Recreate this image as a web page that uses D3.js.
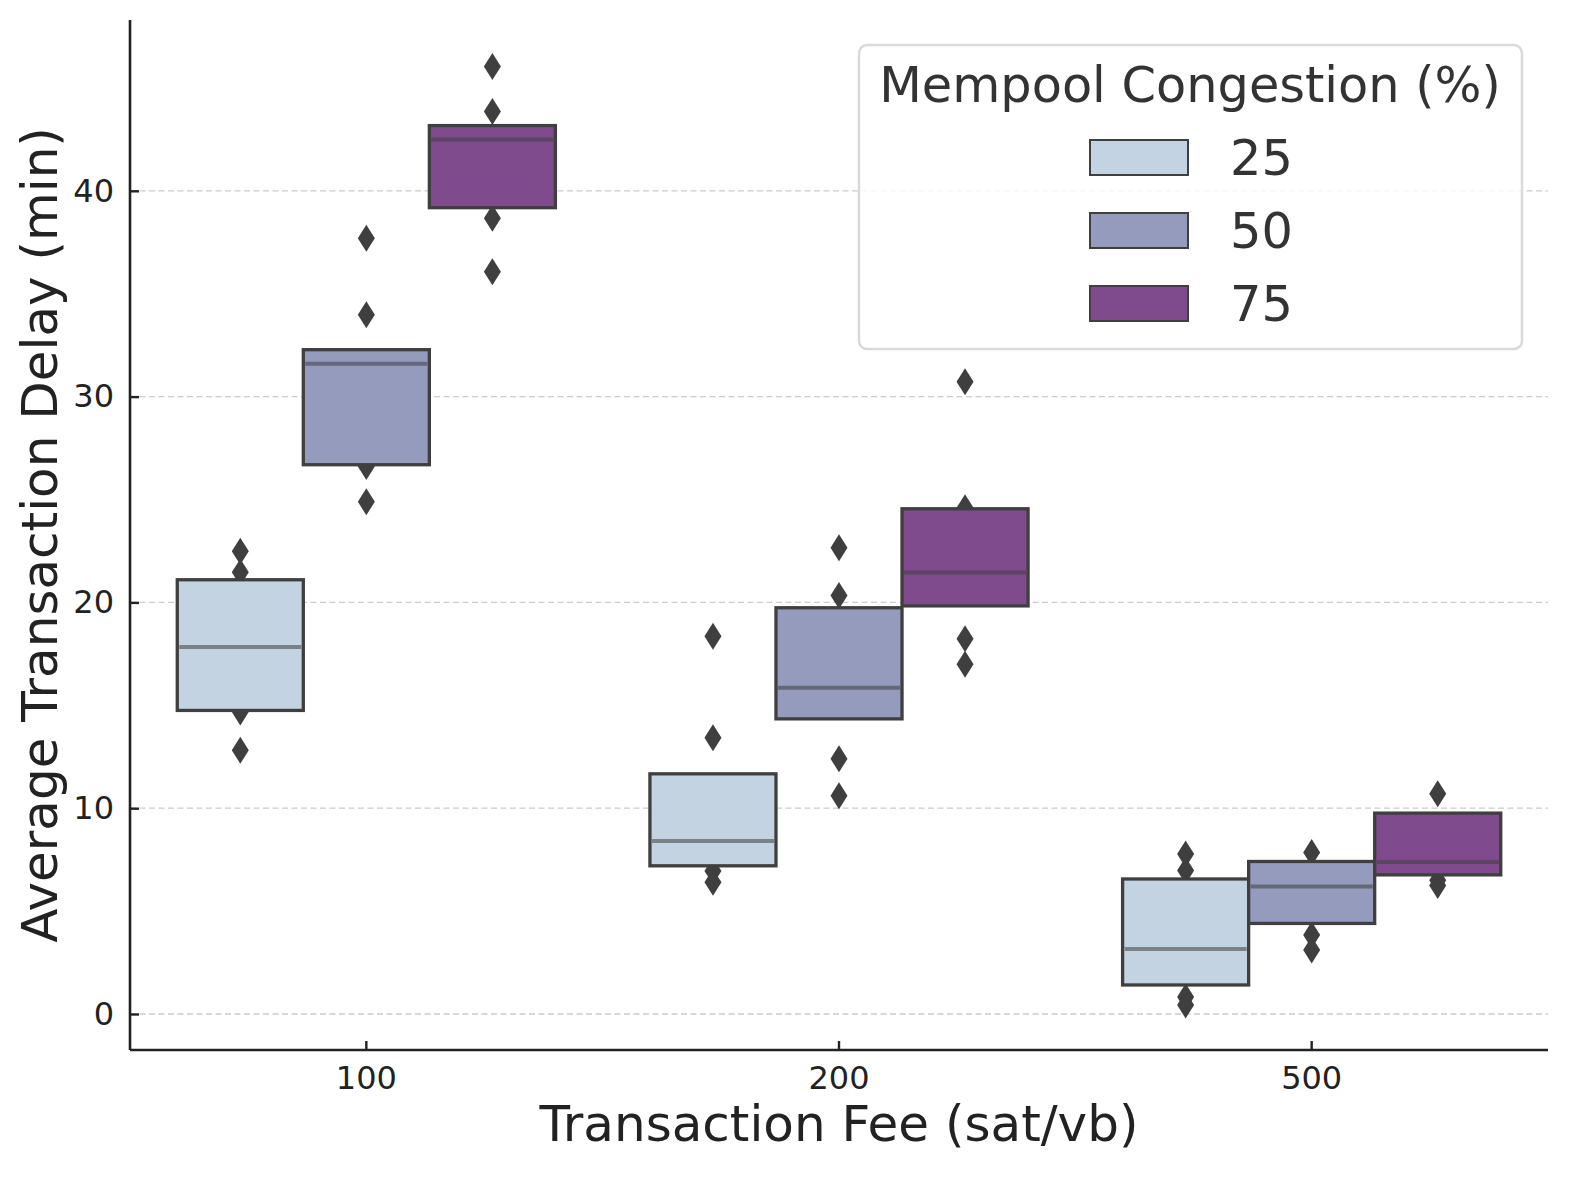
<!DOCTYPE html>
<html>
<head>
<meta charset="utf-8">
<script src="https://cdn.jsdelivr.net/npm/d3@7"></script>
<style>
  body { margin: 0; background: #fff; }
  svg { display: block; font-family: "DejaVu Sans", sans-serif; }
</style>
</head>
<body>
<div id="chart"></div>
<script>
// transaction fee groups and congestion levels
const fees = ['100', '200', '500'];
const congestion = ['25', '50', '75'];
const hueColors = ['#c3d3e2', '#949bbd', '#7f4b8c'];

// box extents and medians, [fee][congestion]
const boxLow = [[14.75, 26.69, 39.18], [7.2, 14.34, 19.83], [1.41, 4.4, 6.76]];
const boxHigh = [[21.1, 32.28, 43.17], [11.67, 19.74, 24.55], [6.56, 7.41, 9.76]];
const medians = [[17.83, 31.6, 42.49], [8.41, 15.85, 21.45], [3.16, 6.2, 7.39]];

// outlying points (diamonds)
const outliers = [
  [[22.48, 21.46, 14.67, 12.82], [37.7, 33.98, 26.6, 24.89], [46.04, 43.85, 38.67, 36.07]],
  [[18.35, 13.42, 6.95, 6.4], [22.65, 20.34, 12.4, 10.6], [30.72, 24.6, 18.23, 17.0]],
  [[7.78, 6.97, 0.83, 0.44], [7.85, 3.84, 3.11], [10.7, 6.5, 6.24]]
];

const yTicks = [0, 10, 20, 30, 40];

const W = 1580, H = 1180;
const margin = {left: 130, right: 32, top: 20, bottom: 130};

const svg = d3.select('#chart').append('svg')
  .attr('width', W)
  .attr('height', H);

const x = d3.scaleBand()
  .domain(fees)
  .range([margin.left, W - margin.right])
  .padding(0);

const hue = d3.scaleBand()
  .domain(congestion)
  .range([0, x.bandwidth() * 0.8]);

const y = d3.scaleLinear()
  .domain([-1.75, 48.3])
  .range([H - margin.bottom, margin.top]);

// grid
svg.append('g')
  .selectAll('line')
  .data(yTicks)
  .enter()
  .append('line')
  .attr('x1', margin.left)
  .attr('x2', W - margin.right)
  .attr('y1', d => y(d))
  .attr('y2', d => y(d))
  .attr('stroke', '#cccccc')
  .attr('stroke-width', 1.3)
  .attr('stroke-dasharray', '6,3.5');

// flat list of boxes
const boxes = [];
fees.forEach((f, i) => {
  congestion.forEach((c, j) => {
    boxes.push({
      fee: f, level: c, color: hueColors[j],
      lo: boxLow[i][j], hi: boxHigh[i][j], med: medians[i][j],
      out: outliers[i][j],
      x0: x(f) + x.bandwidth() * 0.1 + hue(c),
      w: hue.bandwidth()
    });
  });
});

const diamond = 'M0,-13.5L8.5,0L0,13.5L-8.5,0Z';

// outliers first, boxes drawn over them
boxes.forEach(b => {
  svg.append('g')
    .selectAll('path')
    .data(b.out)
    .enter()
    .append('path')
    .attr('d', diamond)
    .attr('fill', '#3f3f3f')
    .attr('transform', d => 'translate(' + (b.x0 + b.w / 2) + ',' + y(d) + ')');
});

const g = svg.append('g')
  .selectAll('.box')
  .data(boxes)
  .enter()
  .append('g')
  .attr('class', 'box');

g.append('rect')
  .attr('x', d => d.x0)
  .attr('y', d => y(d.hi))
  .attr('width', d => d.w)
  .attr('height', d => y(d.lo) - y(d.hi))
  .attr('fill', d => d.color)
  .attr('stroke', '#3f3f3f')
  .attr('stroke-width', 3.3);

g.append('line')
  .attr('x1', d => d.x0 + 2)
  .attr('x2', d => d.x0 + d.w - 2)
  .attr('y1', d => y(d.med))
  .attr('y2', d => y(d.med))
  .attr('stroke', d => d3.interpolateRgb(d.color, '#3f3f3f')(0.55))
  .attr('stroke-width', 4);

// axes
const yAxis = svg.append('g')
  .attr('transform', 'translate(' + margin.left + ',0)')
  .call(d3.axisLeft(y).tickValues(yTicks).tickSize(-9).tickPadding(16));

const xAxis = svg.append('g')
  .attr('transform', 'translate(0,' + (H - margin.bottom) + ')')
  .call(d3.axisBottom(x).tickSize(-9).tickPadding(16));

[xAxis, yAxis].forEach(a => {
  a.select('.domain').attr('stroke', '#222').attr('stroke-width', 2.6);
  a.selectAll('.tick line').attr('stroke', '#222').attr('stroke-width', 2.4);
  a.selectAll('.tick text')
    .attr('fill', '#222')
    .style('font-size', '32px')
    .style('font-family', '"DejaVu Sans", sans-serif');
});
yAxis.select('.domain').attr('d', 'M0,' + (H - margin.bottom) + 'V' + margin.top);
xAxis.select('.domain').attr('d', 'M' + margin.left + ',0H' + (W - margin.right));

svg.append('text')
  .attr('x', (margin.left + W - margin.right) / 2)
  .attr('y', 1141)
  .attr('text-anchor', 'middle')
  .attr('fill', '#222')
  .style('font-size', '50px')
  .text('Transaction Fee (sat/vb)');

svg.append('text')
  .attr('transform', 'translate(57,' + ((margin.top + H - margin.bottom) / 2) + ') rotate(-90)')
  .attr('text-anchor', 'middle')
  .attr('fill', '#222')
  .style('font-size', '50px')
  .text('Average Transaction Delay (min)');

// legend
const legend = svg.append('g').attr('transform', 'translate(859,45)');
legend.append('rect')
  .attr('width', 663)
  .attr('height', 304)
  .attr('rx', 8)
  .attr('fill', '#fff')
  .attr('fill-opacity', 0.8)
  .attr('stroke', '#d9d9d9')
  .attr('stroke-width', 2.5);

legend.append('text')
  .attr('x', 331)
  .attr('y', 57)
  .attr('text-anchor', 'middle')
  .attr('fill', '#333')
  .style('font-size', '49.4px')
  .text('Mempool Congestion (%)');

const items = legend.selectAll('.item')
  .data(congestion)
  .enter()
  .append('g')
  .attr('class', 'item')
  .attr('transform', (d, i) => 'translate(231,' + (95 + i * 73) + ')');

items.append('rect')
  .attr('width', 98)
  .attr('height', 35)
  .attr('fill', (d, i) => hueColors[i])
  .attr('stroke', '#3f3f3f')
  .attr('stroke-width', 2);

items.append('text')
  .attr('x', 140)
  .attr('y', 35)
  .attr('fill', '#333')
  .style('font-size', '49.4px')
  .text(d => d);
</script>
</body>
</html>
